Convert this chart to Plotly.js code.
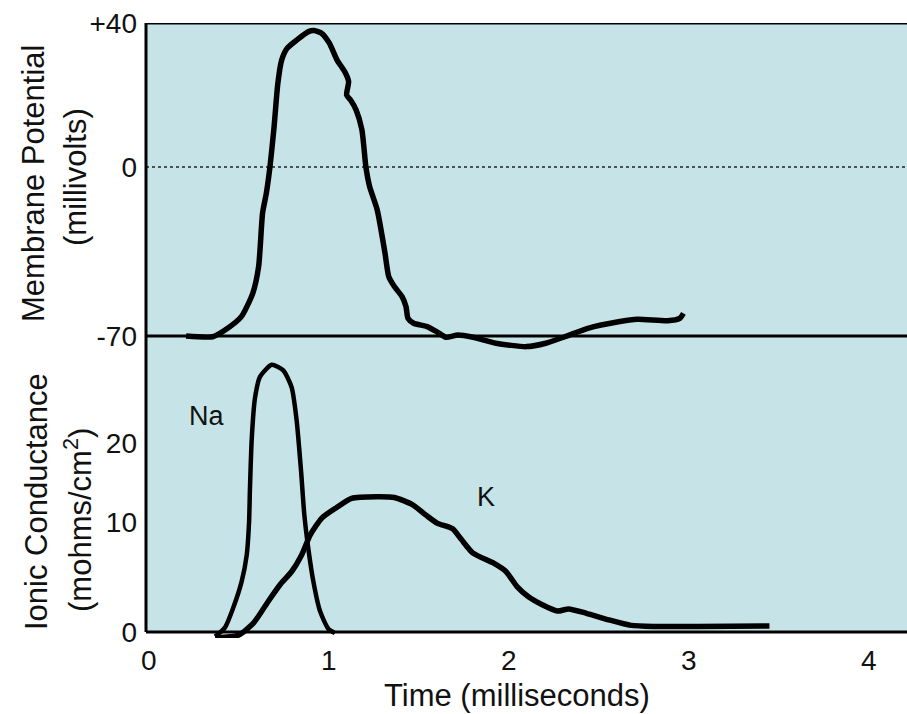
<!DOCTYPE html>
<html><head><meta charset="utf-8">
<script src="https://cdn.plot.ly/plotly-3.0.1.min.js"></script>
<style>html,body{margin:0;padding:0;background:#fff;} #chart{width:907px;height:714px;}</style>
</head><body><div id="chart"></div>
<script>
// ---- tick labels ----
const timeTicks = [0, 1, 2, 3, 4];
const mvTicks = [-70, 0, 40];
const mvTickText = ["-70", "0", "+40"];
const gTicks = [0, 10, 20];
const gTickText = ["0", "10", "20"];

// ---- membrane potential (mV) vs time (ms) ----
const apTime = [0.207,0.355,0.44,0.514,0.578,0.61,0.632,0.653,0.673,0.696,0.717,0.738,0.769,0.823,0.887,0.918,0.961,1.003,1.046,1.088,1.11,1.099,1.121,1.152,1.184,1.206,1.227,1.269,1.312,1.333,1.365,1.407,1.429,1.44,1.471,1.546,1.599,1.651,1.716,1.801,1.929,2.098,2.205,2.311,2.439,2.609,2.715,2.884,2.949,2.97];
const apMv = [-70,-70.3,-66.7,-62.0,-52.2,-41.3,-19.1,-10.8,0,11.2,23.3,29.7,33.0,35.3,37.6,37.9,37.1,34.4,29.7,26.5,23.7,20.0,18.6,15.8,10.3,0,-8.2,-17.8,-35.6,-45.4,-49.6,-53.7,-57.9,-62.7,-64.7,-66.1,-68.2,-70.5,-69.6,-70.5,-73.0,-74.4,-73.0,-70.3,-66.8,-64.1,-63.1,-63.7,-62.7,-60.6];

// ---- Na conductance (mmho/cm2) vs time (ms) ----
const naTime = [0.368,0.423,0.469,0.516,0.544,0.557,0.562,0.572,0.59,0.618,0.683,0.747,0.794,0.822,0.846,0.864,0.886,0.914,0.951,0.997,1.034];
const naG = [-0.4,0.4,2.2,4.6,7.0,10.0,14.3,20.6,25.7,28.4,29.9,29.2,27.0,22.7,16.4,10.9,7.6,4.6,1.9,0.3,-0.1];

// ---- K conductance (mmho/cm2) vs time (ms) ----
const kTime = [0.368,0.497,0.581,0.664,0.729,0.794,0.849,0.896,0.961,1.034,1.127,1.266,1.365,1.464,1.538,1.601,1.686,1.737,1.799,1.911,1.984,2.047,2.109,2.183,2.27,2.332,2.431,2.556,2.679,2.803,3.051,3.448];
const kG = [-0.5,-0.3,0.8,2.8,4.3,5.5,7.0,8.8,10.5,11.7,13.0,13.2,13.1,12.2,10.9,9.9,9.4,8.4,7.2,6.3,5.5,4.1,3.2,2.5,1.9,2.1,1.7,1.1,0.6,0.5,0.5,0.55];

// The drawing uses a piecewise scale on both panels (labels are not evenly spaced).
const SPLIT = 296;   // axis unit where the two panels meet
function mvToAxis(v) { return v < 0 ? SPLIT + (v + 70) / 70 * 169 : SPLIT + 169 + v / 40 * 144; }
function gToAxis(g) { return g < 10 ? g * 11 : 110 + (g - 10) * 7.9; }

const FONT = '"Liberation Sans", Arial, Helvetica, sans-serif';
const INK = '#111';

const traces = [
  { x: apTime, y: apMv.map(mvToAxis), mode: 'lines', hoverinfo: 'skip',
    line: { color: '#000', width: 5.5, shape: 'spline', smoothing: 0.6 } },
  { x: naTime, y: naG.map(gToAxis), mode: 'lines', hoverinfo: 'skip',
    line: { color: '#000', width: 4.5, shape: 'spline', smoothing: 0.6 } },
  { x: kTime, y: kG.map(gToAxis), mode: 'lines', hoverinfo: 'skip',
    line: { color: '#000', width: 5.5, shape: 'spline', smoothing: 0.6 } }
];

// y axis units are pixels above the bottom frame line
const layout = {
  width: 907, height: 714,
  margin: { l: 146, r: 0, t: 23, b: 76 },
  paper_bgcolor: '#fff',
  plot_bgcolor: 'rgba(0,0,0,0)',
  showlegend: false,
  font: { family: FONT, color: INK },
  xaxis: {
    range: [-0.0156, 4.212], tickvals: timeTicks, ticktext: timeTicks.map(String),
    showgrid: false, zeroline: false, showline: false, ticks: '',
    tickfont: { size: 28, color: INK, family: FONT }, ticklabelstandoff: 3, fixedrange: true
  },
  yaxis: {
    range: [-6, 609],
    tickvals: gTicks.map(gToAxis).concat(mvTicks.map(mvToAxis)),
    ticktext: gTickText.concat(mvTickText),
    showgrid: false, zeroline: false, showline: false, ticks: '',
    tickfont: { size: 28, color: INK, family: FONT }, ticklabelstandoff: 8, fixedrange: true
  },
  shapes: [
    { type: 'rect', xref: 'paper', yref: 'y', x0: 0, x1: 1, y0: 0, y1: 609,
      fillcolor: '#c6e4e8', line: { width: 0 }, layer: 'below' },
    { type: 'line', xref: 'paper', yref: 'y', x0: 0, x1: 1, y0: mvToAxis(0), y1: mvToAxis(0),
      line: { color: '#222', width: 1.5, dash: 'dot' }, layer: 'below' },
    { type: 'line', xref: 'paper', yref: 'y', x0: 0, x1: 0, y0: 0, y1: 609, line: { color: '#000', width: 3 } },
    { type: 'line', xref: 'paper', yref: 'y', x0: 0, x1: 1, y0: 609, y1: 609, line: { color: '#000', width: 3 } },
    { type: 'line', xref: 'paper', yref: 'y', x0: 0, x1: 1, y0: 0, y1: 0, line: { color: '#000', width: 3 } },
    { type: 'line', xref: 'paper', yref: 'y', x0: 0, x1: 1, y0: SPLIT, y1: SPLIT, line: { color: '#000', width: 3 } }
  ],
  annotations: [
    { text: 'Time (milliseconds)', xref: 'paper', yref: 'paper', x: (517 - 146) / 761, y: (638 - 695) / 615,
      xanchor: 'center', yanchor: 'middle', showarrow: false, font: { size: 31, color: INK, family: FONT } },
    { text: 'Membrane Potential', xref: 'paper', yref: 'y', x: (33 - 146) / 761, y: 632 - 184,
      xanchor: 'center', yanchor: 'middle', textangle: -90, showarrow: false, font: { size: 31, color: INK, family: FONT } },
    { text: '(millivolts)', xref: 'paper', yref: 'y', x: (75 - 146) / 761, y: 632 - 177,
      xanchor: 'center', yanchor: 'middle', textangle: -90, showarrow: false, font: { size: 31, color: INK, family: FONT } },
    { text: 'Ionic Conductance', xref: 'paper', yref: 'y', x: (36 - 146) / 761, y: 632 - 502,
      xanchor: 'center', yanchor: 'middle', textangle: -90, showarrow: false, font: { size: 31, color: INK, family: FONT } },
    { text: '(mohms/cm<sup>2</sup>)', xref: 'paper', yref: 'y', x: (78 - 146) / 761, y: 632 - 520,
      xanchor: 'center', yanchor: 'middle', textangle: -90, showarrow: false, font: { size: 31, color: INK, family: FONT } },
    { text: 'Na', x: 0.323, y: gToAxis(23.4), xref: 'x', yref: 'y', xanchor: 'center', yanchor: 'middle',
      showarrow: false, font: { size: 27, color: INK, family: FONT } },
    { text: 'K', x: 1.873, y: gToAxis(13.2), xref: 'x', yref: 'y', xanchor: 'center', yanchor: 'middle',
      showarrow: false, font: { size: 27, color: INK, family: FONT } }
  ]
};

Plotly.newPlot('chart', traces, layout, { displayModeBar: false, staticPlot: true });
</script>
</body></html>
